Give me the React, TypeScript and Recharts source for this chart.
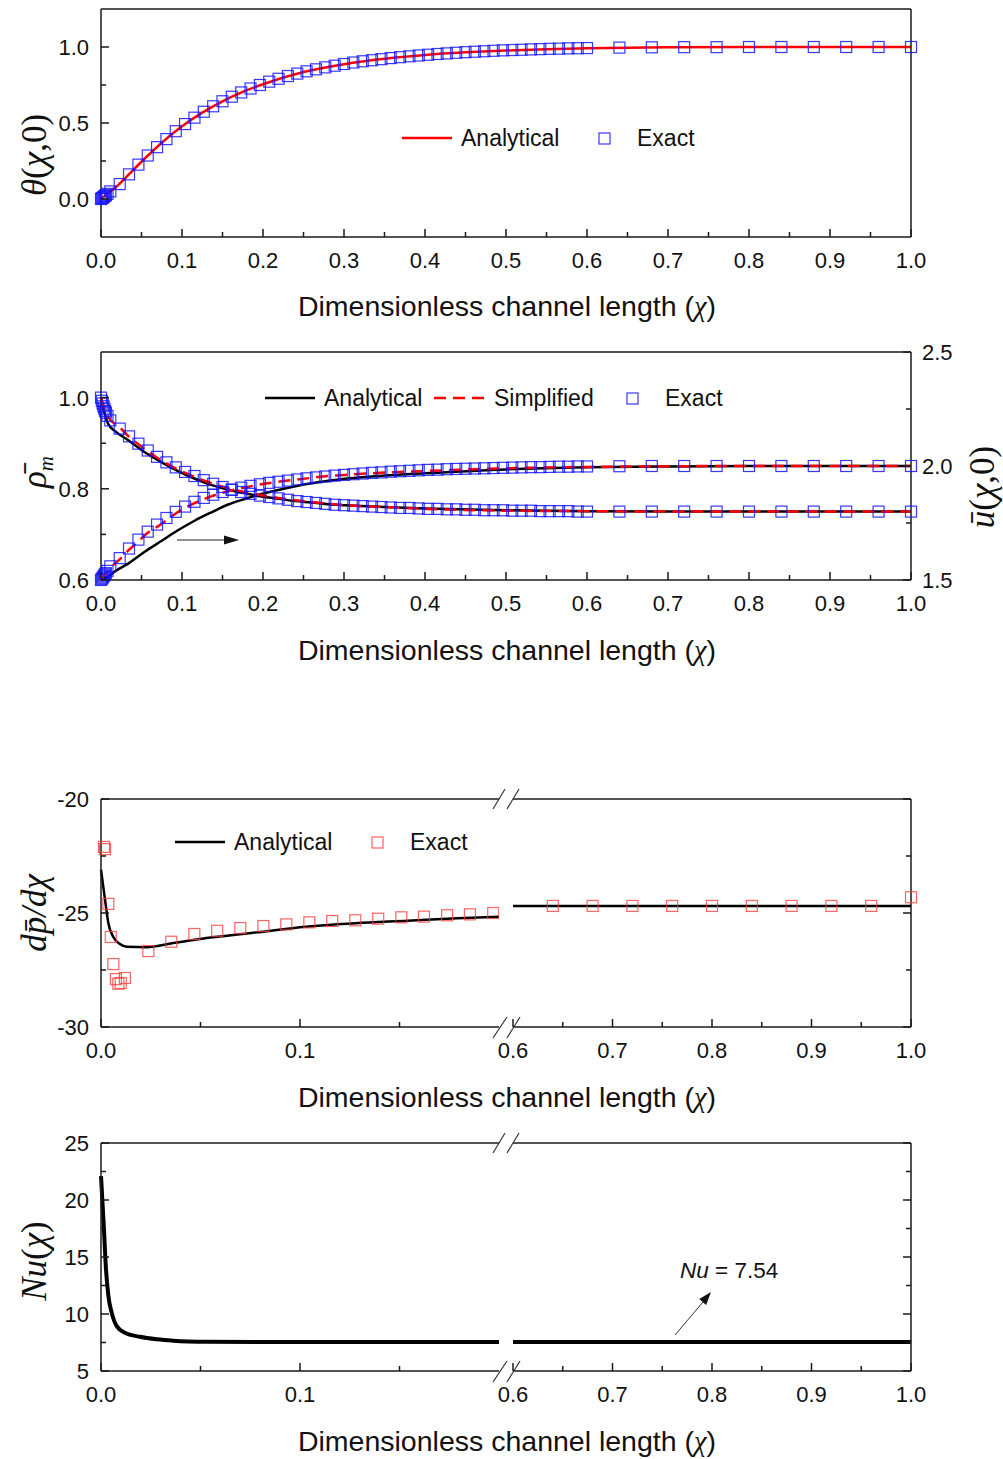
import React from 'react';
import { ComposedChart, Line, Scatter, XAxis, YAxis } from 'recharts';

const SANS = '"Liberation Sans", Arial, Helvetica, sans-serif';
const SERIF = '"Liberation Serif", "Times New Roman", serif';
const AXIS = '#1a1a1a';

// ---- tick positions / labels
const xTicksFull = [0, 0.05, 0.1, 0.15, 0.2, 0.25, 0.3, 0.35, 0.4, 0.45, 0.5, 0.55, 0.6, 0.65, 0.7, 0.75, 0.8, 0.85, 0.9, 0.95, 1.0];
const xLabelsFull = [0, 0.1, 0.2, 0.3, 0.4, 0.5, 0.6, 0.7, 0.8, 0.9, 1.0];
const xTicksLeft = [0, 0.05, 0.1, 0.15];
const xLabelsLeft = [0, 0.1];
const xTicksRight = [0.6, 0.65, 0.7, 0.75, 0.8, 0.85, 0.9, 0.95, 1.0];
const xLabelsRight = [0.6, 0.7, 0.8, 0.9, 1.0];
const thetaTicks = [0, 0.25, 0.5, 0.75, 1.0];
const thetaLabels = [0, 0.5, 1.0];
const rhoTicks = [0.6, 0.7, 0.8, 0.9, 1.0];
const rhoLabels = [0.6, 0.8, 1.0];
const uTicks = [1.5, 1.75, 2.0, 2.25, 2.5];
const uLabels = [1.5, 2.0, 2.5];
const dpTicks = [-30, -27.5, -25, -22.5, -20];
const dpLabels = [-30, -25, -20];
const nuTicks = [5, 7.5, 10, 12.5, 15, 17.5, 20, 22.5, 25];
const nuLabels = [5, 10, 15, 20, 25];

// ---- exact solution sample positions (panels 1 and 2)
const exactX = [
  0, 0.001, 0.002, 0.003, 0.004, 0.005, 0.006, 0.008,
  0.0115, 0.0231, 0.0346, 0.0462, 0.0577, 0.0692, 0.0808, 0.0923, 0.1038, 0.1154,
  0.1269, 0.1385, 0.15, 0.1615, 0.1731, 0.1846, 0.1962, 0.2077, 0.2192, 0.2308,
  0.2423, 0.2538, 0.2654, 0.2769, 0.2885, 0.3, 0.3115, 0.3231, 0.3346, 0.3462,
  0.3577, 0.3692, 0.3808, 0.3923, 0.4038, 0.4154, 0.4269, 0.4385, 0.45, 0.4615,
  0.4731, 0.4846, 0.4962, 0.5077, 0.5192, 0.5308, 0.5423, 0.5538, 0.5654, 0.5769,
  0.5885, 0.6,
  0.64, 0.68, 0.72, 0.76, 0.8, 0.84, 0.88, 0.92, 0.96, 1.0,
];

// panel 1: theta(chi,0)
const thetaExact = [
  0, 0.004, 0.008, 0.012, 0.017, 0.021, 0.025, 0.034,
  0.05, 0.098, 0.162, 0.226, 0.286, 0.341, 0.394, 0.446, 0.493, 0.535,
  0.574, 0.61, 0.643, 0.673, 0.701, 0.727, 0.75, 0.772, 0.791, 0.809,
  0.825, 0.84, 0.853, 0.866, 0.877, 0.888, 0.898, 0.906, 0.913, 0.92,
  0.927, 0.933, 0.939, 0.944, 0.949, 0.954, 0.958, 0.962, 0.966, 0.969,
  0.972, 0.975, 0.978, 0.98, 0.982, 0.984, 0.986, 0.988, 0.989, 0.991,
  0.992, 0.993,
  0.996, 0.998, 0.999, 0.999, 1.0, 1.0, 1.0, 1.0, 1.0, 1.0,
];
const thetaAnaX = [0, 0.01, 0.02, 0.03, 0.05, 0.075, 0.1, 0.125, 0.15, 0.175, 0.2, 0.25, 0.3, 0.35, 0.4, 0.45, 0.5, 0.55, 0.6, 0.7, 0.8, 0.9, 1.0];
const thetaAna = [0, 0.045, 0.085, 0.138, 0.245, 0.37, 0.478, 0.568, 0.643, 0.705, 0.755, 0.835, 0.887, 0.923, 0.948, 0.965, 0.977, 0.986, 0.992, 0.998, 1.0, 1.0, 1.0];

// panel 2: mean density (left axis) and velocity (right axis)
const rhoExact = [
  1.0, 0.993, 0.987, 0.981, 0.976, 0.971, 0.967, 0.96,
  0.95, 0.932, 0.915, 0.899, 0.884, 0.87, 0.858, 0.847, 0.837, 0.828,
  0.819, 0.811, 0.804, 0.798, 0.793, 0.789, 0.785, 0.782, 0.779, 0.776,
  0.773, 0.771, 0.769, 0.767, 0.765, 0.764, 0.763, 0.762, 0.761, 0.76,
  0.759, 0.758, 0.758, 0.757, 0.756, 0.756, 0.755, 0.755, 0.754, 0.754,
  0.753, 0.753, 0.753, 0.752, 0.752, 0.752, 0.751, 0.751, 0.751, 0.751,
  0.75, 0.75,
  0.75, 0.75, 0.75, 0.75, 0.75, 0.75, 0.75, 0.75, 0.75, 0.75,
];
const uExact = [
  1.5, 1.505, 1.51, 1.515, 1.52, 1.525, 1.53, 1.54,
  1.56, 1.596, 1.638, 1.677, 1.712, 1.743, 1.772, 1.799, 1.822, 1.843,
  1.86, 1.874, 1.886, 1.896, 1.905, 1.913, 1.92, 1.926, 1.931, 1.936,
  1.941, 1.946, 1.95, 1.954, 1.958, 1.961, 1.964, 1.967, 1.97, 1.972,
  1.975, 1.977, 1.979, 1.981, 1.983, 1.984, 1.986, 1.987, 1.988, 1.989,
  1.99, 1.991, 1.992, 1.993, 1.994, 1.995, 1.995, 1.996, 1.997, 1.997,
  1.998, 1.998,
  1.999, 2.0, 2.0, 2.0, 2.0, 2.0, 2.0, 2.0, 2.0, 2.0,
];
const anaX2 = [0, 0.003, 0.009, 0.017, 0.034, 0.054, 0.075, 0.095, 0.116, 0.137, 0.157, 0.178, 0.198, 0.219, 0.24, 0.26, 0.281, 0.301, 0.35, 0.4, 0.5, 0.6, 0.7, 0.8, 0.9, 1.0];
const rhoAna = [1.0, 0.975, 0.942, 0.927, 0.906, 0.88, 0.858, 0.839, 0.822, 0.808, 0.798, 0.79, 0.783, 0.778, 0.773, 0.77, 0.766, 0.764, 0.76, 0.757, 0.753, 0.751, 0.75, 0.75, 0.75, 0.75];
const uAna = [1.5, 1.507, 1.515, 1.537, 1.573, 1.624, 1.672, 1.718, 1.761, 1.798, 1.831, 1.856, 1.877, 1.895, 1.911, 1.924, 1.935, 1.944, 1.958, 1.968, 1.985, 1.994, 1.998, 2.0, 2.0, 2.0];
const simpX2 = [0, 0.009, 0.023, 0.034, 0.046, 0.054, 0.075, 0.095, 0.116, 0.137, 0.157, 0.178, 0.198, 0.219, 0.24, 0.26, 0.281, 0.301, 0.35, 0.4, 0.5, 0.6, 0.7, 0.8, 0.9, 1.0];
const rhoSimp = [1.0, 0.957, 0.935, 0.915, 0.898, 0.887, 0.862, 0.842, 0.826, 0.812, 0.801, 0.793, 0.786, 0.78, 0.775, 0.771, 0.767, 0.764, 0.76, 0.756, 0.752, 0.751, 0.75, 0.75, 0.75, 0.75];
const uSimp = [1.5, 1.544, 1.59, 1.631, 1.668, 1.696, 1.747, 1.798, 1.838, 1.868, 1.889, 1.906, 1.92, 1.931, 1.94, 1.948, 1.956, 1.961, 1.971, 1.978, 1.99, 1.996, 1.999, 2.0, 2.0, 2.0];

// panel 3: pressure gradient (broken axis)
const dpAnaLX = [0, 0.002, 0.0037, 0.0062, 0.0095, 0.0129, 0.023, 0.0363, 0.053, 0.078, 0.103, 0.128, 0.154, 0.179, 0.2];
const dpAnaL = [-23.1, -24.4, -25.45, -26.05, -26.36, -26.48, -26.5, -26.32, -26.1, -25.85, -25.6, -25.45, -25.34, -25.23, -25.16];
const dpExactLX = [0.0015, 0.002, 0.0037, 0.0049, 0.0062, 0.0075, 0.0087, 0.0099, 0.012, 0.0238, 0.0353, 0.0469, 0.0584, 0.07, 0.0816, 0.0931, 0.1047, 0.1162, 0.1278, 0.1393, 0.1509, 0.1623, 0.1739, 0.1854, 0.1971];
const dpExactL = [-22.1, -22.2, -24.6, -26.05, -27.24, -27.9, -28.1, -28.07, -27.85, -26.67, -26.26, -25.92, -25.78, -25.66, -25.57, -25.5, -25.41, -25.35, -25.32, -25.25, -25.19, -25.16, -25.1, -25.06, -25.0];
const dpAnaRX = [0.6, 0.7, 0.8, 0.9, 1.0];
const dpAnaR = [-24.69, -24.69, -24.69, -24.69, -24.69];
const dpExactRX = [0.64, 0.68, 0.72, 0.76, 0.8, 0.84, 0.88, 0.92, 0.96, 1.0];
const dpExactR = [-24.69, -24.69, -24.69, -24.69, -24.69, -24.69, -24.69, -24.69, -24.69, -24.31];

// panel 4: Nusselt number (broken axis)
const nuLX = [0, 0.0015, 0.0023, 0.0037, 0.0054, 0.0079, 0.012, 0.0196, 0.028, 0.0363, 0.053, 0.078, 0.12, 0.16, 0.2];
const nuL = [22.1, 17.4, 14.5, 11.6, 10.1, 8.94, 8.36, 8.0, 7.78, 7.66, 7.57, 7.55, 7.54, 7.54, 7.54];
const nuRX = [0.6, 0.7, 0.8, 0.9, 1.0];
const nuR = [7.54, 7.54, 7.54, 7.54, 7.54];

const pts = (xs: number[], ys: number[]) => xs.map((x, i) => ({ x, y: ys[i] }));

type Side = 'bottom' | 'top' | 'left' | 'right';
const isIn = (list: number[], v: number) => list.some((l) => Math.abs(l - v) < 1e-9);

function axisTick(side: Side, labels: number[], digits = 1, showText = true) {
  return (props: any) => {
    const { x, y, payload } = props;
    const v = Number(payload.value);
    const major = isIn(labels, v);
    const len = major ? 8 : 5;
    let x2 = x;
    let y2 = y;
    if (side === 'bottom') y2 = y - len;
    if (side === 'top') y2 = y + len;
    if (side === 'left') x2 = x + len;
    if (side === 'right') x2 = x - len;
    const text = major && showText ? v.toFixed(digits) : null;
    let tx = x;
    let ty = y + 31;
    let anchor: 'middle' | 'end' | 'start' = 'middle';
    if (side === 'left') { tx = x - 12; ty = y + 8; anchor = 'end'; }
    if (side === 'right') { tx = x + 11; ty = y + 8; anchor = 'start'; }
    return (
      <g>
        <line x1={x} y1={y} x2={x2} y2={y2} stroke={AXIS} strokeWidth={1.5} />
        {text && (
          <text x={tx} y={ty} textAnchor={anchor} fontFamily={SANS} fontSize={22} fill="#111">
            {text}
          </text>
        )}
      </g>
    );
  };
}

const squareShape = (color: string) => (props: any) => {
  const { cx, cy } = props;
  if (cx == null || cy == null) return <g />;
  return <rect x={cx - 5.5} y={cy - 5.5} width={11} height={11} fill="none" stroke={color} strokeWidth={1.2} />;
};

const axisBase = {
  type: 'number' as const,
  tickSize: 0,
  tickMargin: 0,
  tickLine: false,
  interval: 0 as const,
  axisLine: { stroke: AXIS, strokeWidth: 1.5 },
};

const BLUE = 'rgba(20,20,255,0.85)';
const RED_SQ = 'rgba(255,60,60,0.8)';

// every chart: 30px headroom + 1px top axis, 228px plot, 40px bottom axis
const CH_H = 299;
const M_TOP = 30;

function ThetaPanel() {
  return (
    <div style={{ position: 'absolute', left: 0, top: 9 - 31 }}>
      <ComposedChart width={1003} height={CH_H} margin={{ top: M_TOP, right: 91, bottom: 0, left: 41 }}>
        <XAxis {...axisBase} xAxisId="b" dataKey="x" domain={[0, 1]} ticks={xTicksFull} height={40} tick={axisTick('bottom', xLabelsFull)} />
        <XAxis {...axisBase} xAxisId="t" orientation="top" dataKey="x" domain={[0, 1]} ticks={xTicksFull} height={1} tick={axisTick('top', xLabelsFull, 1, false)} />
        <YAxis {...axisBase} yAxisId="l" dataKey="y" domain={[-0.25, 1.25]} ticks={thetaTicks} width={60} tick={axisTick('left', thetaLabels)} />
        <YAxis {...axisBase} yAxisId="r" orientation="right" dataKey="y" domain={[-0.25, 1.25]} ticks={thetaTicks} width={1} tick={axisTick('right', thetaLabels, 1, false)} />
        <Scatter xAxisId="b" yAxisId="l" data={pts(exactX, thetaExact)} dataKey="y" shape={squareShape(BLUE)} isAnimationActive={false} />
        <Line xAxisId="b" yAxisId="l" data={pts(thetaAnaX, thetaAna)} dataKey="y" type="monotone" stroke="#ff0000" strokeWidth={2.5} dot={false} isAnimationActive={false} />
      </ComposedChart>
    </div>
  );
}

function DensityPanel() {
  return (
    <div style={{ position: 'absolute', left: 0, top: 352 - 31 }}>
      <ComposedChart width={1003} height={CH_H} margin={{ top: M_TOP, right: 91, bottom: 0, left: 41 }}>
        <XAxis {...axisBase} xAxisId="b" dataKey="x" domain={[0, 1]} ticks={xTicksFull} height={40} tick={axisTick('bottom', xLabelsFull)} />
        <XAxis {...axisBase} xAxisId="t" orientation="top" dataKey="x" domain={[0, 1]} ticks={xTicksFull} height={1} tick={axisTick('top', xLabelsFull, 1, false)} />
        <YAxis {...axisBase} yAxisId="rho" dataKey="y" domain={[0.6, 1.1]} ticks={rhoTicks} width={60} tick={axisTick('left', rhoLabels)} />
        <YAxis {...axisBase} yAxisId="u" orientation="right" dataKey="y" domain={[1.5, 2.5]} ticks={uTicks} width={1} tick={axisTick('right', uLabels)} />
        <Scatter xAxisId="b" yAxisId="rho" data={pts(exactX, rhoExact)} dataKey="y" shape={squareShape(BLUE)} isAnimationActive={false} />
        <Scatter xAxisId="b" yAxisId="u" data={pts(exactX, uExact)} dataKey="y" shape={squareShape(BLUE)} isAnimationActive={false} />
        <Line xAxisId="b" yAxisId="rho" data={pts(anaX2, rhoAna)} dataKey="y" type="monotone" stroke="#000" strokeWidth={2.5} dot={false} isAnimationActive={false} />
        <Line xAxisId="b" yAxisId="u" data={pts(anaX2, uAna)} dataKey="y" type="monotone" stroke="#000" strokeWidth={2.5} dot={false} isAnimationActive={false} />
        <Line xAxisId="b" yAxisId="rho" data={pts(simpX2, rhoSimp)} dataKey="y" type="monotone" stroke="#ff0000" strokeWidth={2.5} strokeDasharray="12 7" dot={false} isAnimationActive={false} />
        <Line xAxisId="b" yAxisId="u" data={pts(simpX2, uSimp)} dataKey="y" type="monotone" stroke="#ff0000" strokeWidth={2.5} strokeDasharray="12 7" dot={false} isAnimationActive={false} />
      </ComposedChart>
    </div>
  );
}

type BrokenProps = {
  plotTop: number;
  domain: [number, number];
  yTicks: number[];
  yLabels: number[];
  digits: number;
  left: { line: { x: number; y: number }[]; exact?: { x: number; y: number }[] };
  right: { line: { x: number; y: number }[]; exact?: { x: number; y: number }[] };
  lineWidth: number;
};

function BrokenPanel({ plotTop, domain, yTicks, yLabels, digits, left, right, lineWidth }: BrokenProps) {
  const top = plotTop - 31;
  return (
    <>
      <div style={{ position: 'absolute', left: 0, top }}>
        <ComposedChart width={499} height={CH_H} margin={{ top: M_TOP, right: 0, bottom: 0, left: 41 }}>
          <XAxis {...axisBase} xAxisId="b" dataKey="x" domain={[0, 0.2]} ticks={xTicksLeft} height={40} tick={axisTick('bottom', xLabelsLeft)} />
          <XAxis {...axisBase} xAxisId="t" orientation="top" dataKey="x" domain={[0, 0.2]} ticks={xTicksLeft} height={1} tick={axisTick('top', xLabelsLeft, 1, false)} />
          <YAxis {...axisBase} yAxisId="l" dataKey="y" domain={domain} ticks={yTicks} width={60} tick={axisTick('left', yLabels, digits)} />
          <Line xAxisId="b" yAxisId="l" data={left.line} dataKey="y" type="monotone" stroke="#000" strokeWidth={lineWidth} dot={false} isAnimationActive={false} />
          {left.exact && (
            <Scatter xAxisId="b" yAxisId="l" data={left.exact} dataKey="y" shape={squareShape(RED_SQ)} isAnimationActive={false} />
          )}
        </ComposedChart>
      </div>
      <div style={{ position: 'absolute', left: 483, top }}>
        <ComposedChart width={520} height={CH_H} margin={{ top: M_TOP, right: 91, bottom: 0, left: 30 }}>
          <XAxis {...axisBase} xAxisId="b" dataKey="x" domain={[0.6, 1.0]} ticks={xTicksRight} height={40} tick={axisTick('bottom', xLabelsRight)} />
          <XAxis {...axisBase} xAxisId="t" orientation="top" dataKey="x" domain={[0.6, 1.0]} ticks={xTicksRight} height={1} tick={axisTick('top', xLabelsRight, 1, false)} />
          <YAxis {...axisBase} yAxisId="r" orientation="right" dataKey="y" domain={domain} ticks={yTicks} width={1} tick={axisTick('right', yLabels, digits, false)} />
          <Line xAxisId="b" yAxisId="r" data={right.line} dataKey="y" type="monotone" stroke="#000" strokeWidth={lineWidth} dot={false} isAnimationActive={false} />
          {right.exact && (
            <Scatter xAxisId="b" yAxisId="r" data={right.exact} dataKey="y" shape={squareShape(RED_SQ)} isAnimationActive={false} />
          )}
        </ComposedChart>
      </div>
    </>
  );
}

const AxisTitle = ({ y }: { y: number }) => (
  <text x={507} y={y} textAnchor="middle" fontFamily={SANS} fontSize={28.5} fill="#111">
    Dimensionless channel length (<tspan fontFamily={SERIF} fontStyle="italic">χ</tspan>)
  </text>
);

const Slashes = ({ yTop, yBot }: { yTop: number; yBot: number }) => (
  <g stroke="#333" strokeWidth={1.2}>
    <line x1={493} y1={yTop + 10} x2={505} y2={yTop - 10} />
    <line x1={507} y1={yTop + 10} x2={519} y2={yTop - 10} />
    <line x1={493} y1={yBot + 11} x2={507} y2={yBot - 10} />
    <line x1={507} y1={yBot + 11} x2={520} y2={yBot - 10} />
  </g>
);

function Overlay() {
  const leg = { fontFamily: SANS, fontSize: 23, fill: '#111' };
  const ylab = { fontFamily: SERIF, fontSize: 35, fill: '#111', textAnchor: 'middle' as const };
  return (
    <svg width={1003} height={1459} style={{ position: 'absolute', left: 0, top: 0, pointerEvents: 'none' }}>
      {/* axis titles */}
      <AxisTitle y={316} />
      <AxisTitle y={660} />
      <AxisTitle y={1107} />
      <AxisTitle y={1451} />

      {/* y axis labels */}
      <text transform="translate(46,155) rotate(-90)" {...ylab}>
        <tspan fontStyle="italic">θ</tspan>(<tspan fontStyle="italic">χ</tspan>,0)
      </text>
      <text transform="translate(46,472) rotate(-90)" {...ylab}>
        <tspan fontStyle="italic">{'ρ\u0304'}</tspan>
        <tspan fontStyle="italic" fontSize={21} dy={7}>m</tspan>
      </text>
      <text transform="translate(994,487) rotate(-90)" {...ylab}>
        <tspan fontStyle="italic">ū</tspan>(<tspan fontStyle="italic">χ</tspan>,0)
      </text>
      <text transform="translate(46,913) rotate(-90)" {...ylab} fontStyle="italic">
        {'dp\u0304/dχ'}
      </text>
      <text transform="translate(46,1261) rotate(-90)" {...ylab}>
        <tspan fontStyle="italic">Nu</tspan>(<tspan fontStyle="italic">χ</tspan>)
      </text>

      {/* legend panel 1 */}
      <line x1={402} y1={138} x2={452} y2={138} stroke="#ff0000" strokeWidth={2.5} />
      <text x={461} y={146} {...leg}>Analytical</text>
      <rect x={599} y={133} width={11} height={11} fill="none" stroke={BLUE} strokeWidth={1.2} />
      <text x={637} y={146} {...leg}>Exact</text>

      {/* legend panel 2 */}
      <line x1={265} y1={398} x2={315} y2={398} stroke="#000" strokeWidth={2.5} />
      <text x={324} y={406} {...leg}>Analytical</text>
      <line x1={434} y1={398} x2={486} y2={398} stroke="#ff0000" strokeWidth={2.5} strokeDasharray="12 7" />
      <text x={494} y={406} {...leg}>Simplified</text>
      <rect x={627} y={393} width={11} height={11} fill="none" stroke={BLUE} strokeWidth={1.2} />
      <text x={665} y={406} {...leg}>Exact</text>
      {/* arrow pointing to right axis */}
      <line x1={177} y1={540} x2={226} y2={540} stroke="#222" strokeWidth={1.2} />
      <polygon points="239,540 224,535.5 224,544.5" fill="#111" />

      {/* legend panel 3 */}
      <line x1={175} y1={842} x2={225} y2={842} stroke="#000" strokeWidth={2.5} />
      <text x={234} y={850} {...leg}>Analytical</text>
      <rect x={372} y={837} width={11} height={11} fill="none" stroke={RED_SQ} strokeWidth={1.2} />
      <text x={410} y={850} {...leg}>Exact</text>

      {/* Nu annotation */}
      <text x={680} y={1278} fontFamily={SANS} fontSize={22.5} fill="#111">
        <tspan fontStyle="italic">Nu</tspan> = 7.54
      </text>
      <line x1={675} y1={1335} x2={703} y2={1302} stroke="#333" strokeWidth={1} />
      <polygon points="711,1292 706.1,1304.9 699.2,1299.1" fill="#111" />

      {/* axis breaks */}
      <Slashes yTop={799} yBot={1027} />
      <Slashes yTop={1143} yBot={1371} />
    </svg>
  );
}

export default function App() {
  return (
    <div style={{ position: 'absolute', left: 0, top: 0, width: 1003, height: 1459, background: '#fff', overflow: 'hidden' }}>
      <ThetaPanel />
      <DensityPanel />
      <BrokenPanel
        plotTop={799}
        domain={[-30, -20]}
        yTicks={dpTicks}
        yLabels={dpLabels}
        digits={0}
        lineWidth={2.5}
        left={{ line: pts(dpAnaLX, dpAnaL), exact: pts(dpExactLX, dpExactL) }}
        right={{ line: pts(dpAnaRX, dpAnaR), exact: pts(dpExactRX, dpExactR) }}
      />
      <BrokenPanel
        plotTop={1143}
        domain={[5, 25]}
        yTicks={nuTicks}
        yLabels={nuLabels}
        digits={0}
        lineWidth={4}
        left={{ line: pts(nuLX, nuL) }}
        right={{ line: pts(nuRX, nuR) }}
      />
      <Overlay />
    </div>
  );
}
